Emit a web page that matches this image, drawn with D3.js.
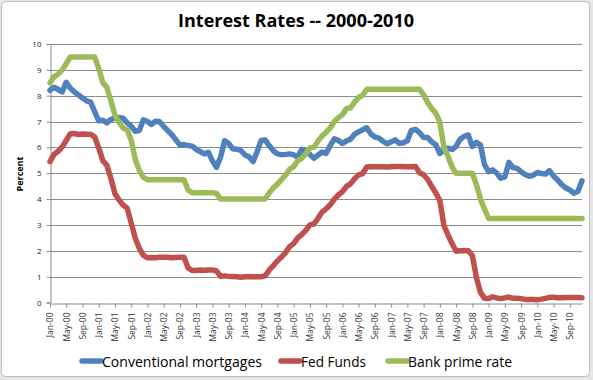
<!DOCTYPE html>
<html>
<head>
<meta charset="utf-8">
<script src="https://cdn.jsdelivr.net/npm/d3@7"></script>
<style>
  body { margin: 0; background: #fff; }
  text { font-family: "Open Sans", "Noto Sans", sans-serif; }
</style>
</head>
<body>
<div id="chart"></div>
<script>
// monthly categories Jan-2000 .. Dec-2010
const months = d3.timeMonth.range(new Date(2000, 0, 1), new Date(2011, 0, 1))
const monthLabels = months.map(d3.timeFormat('%b-%y'))

const mortgages = [
  8.21, 8.33, 8.24, 8.15, 8.52, 8.29, 8.15, 8.03, 7.91, 7.80, 7.75, 7.38,
  7.03, 7.05, 6.95, 7.08, 7.15, 7.16, 7.13, 6.95, 6.82, 6.62, 6.66, 7.07,
  7.00, 6.89, 7.01, 6.99, 6.81, 6.65, 6.49, 6.29, 6.09, 6.11, 6.07, 6.05,
  5.92, 5.84, 5.75, 5.81, 5.48, 5.23, 5.63, 6.26, 6.15, 5.95, 5.93, 5.88,
  5.71, 5.64, 5.45, 5.83, 6.27, 6.29, 6.06, 5.87, 5.75, 5.72, 5.73, 5.75,
  5.71, 5.63, 5.93, 5.86, 5.72, 5.58, 5.70, 5.82, 5.77, 6.07, 6.33, 6.27,
  6.15, 6.25, 6.32, 6.51, 6.60, 6.68, 6.76, 6.52, 6.40, 6.36, 6.24, 6.14,
  6.22, 6.29, 6.16, 6.18, 6.26, 6.66, 6.70, 6.57, 6.38, 6.38, 6.21, 6.10,
  5.76, 5.92, 5.97, 5.92, 6.04, 6.32, 6.43, 6.48, 6.04, 6.20, 6.09, 5.33,
  5.06, 5.13, 5.00, 4.81, 4.86, 5.42, 5.22, 5.19, 5.06, 4.95, 4.88, 4.93,
  5.03, 4.99, 4.97, 5.10, 4.89, 4.74, 4.56, 4.43, 4.35, 4.23, 4.30, 4.71
]

const fedFunds = [
  5.45, 5.73, 5.85, 6.02, 6.27, 6.53, 6.54, 6.50, 6.52, 6.51, 6.51, 6.40,
  5.98, 5.49, 5.31, 4.80, 4.21, 3.97, 3.77, 3.65, 3.07, 2.49, 2.09, 1.82,
  1.73, 1.74, 1.73, 1.75, 1.75, 1.75, 1.73, 1.74, 1.75, 1.75, 1.34, 1.24,
  1.24, 1.26, 1.25, 1.26, 1.26, 1.22, 1.01, 1.03, 1.01, 1.01, 1.00, 0.98,
  1.00, 1.01, 1.00, 1.00, 1.00, 1.03, 1.26, 1.43, 1.61, 1.76, 1.93, 2.16,
  2.28, 2.50, 2.63, 2.79, 3.00, 3.04, 3.26, 3.50, 3.62, 3.78, 4.00, 4.16,
  4.29, 4.49, 4.59, 4.79, 4.94, 4.99, 5.24, 5.25, 5.25, 5.25, 5.25, 5.24,
  5.25, 5.26, 5.26, 5.25, 5.25, 5.25, 5.26, 5.02, 4.94, 4.76, 4.49, 4.24,
  3.94, 2.98, 2.61, 2.28, 1.98, 2.00, 2.01, 2.00, 1.81, 0.97, 0.39, 0.16,
  0.15, 0.22, 0.18, 0.15, 0.18, 0.21, 0.16, 0.16, 0.15, 0.12, 0.12, 0.12,
  0.11, 0.13, 0.16, 0.20, 0.20, 0.18, 0.18, 0.19, 0.19, 0.19, 0.19, 0.18
]

const primeRate = [
  8.50, 8.73, 8.83, 9.00, 9.24, 9.50, 9.50, 9.50, 9.50, 9.50, 9.50, 9.50,
  9.05, 8.50, 8.32, 7.80, 7.24, 6.98, 6.75, 6.67, 6.28, 5.53, 5.10, 4.84,
  4.75, 4.75, 4.75, 4.75, 4.75, 4.75, 4.75, 4.75, 4.75, 4.75, 4.35, 4.25,
  4.25, 4.25, 4.25, 4.25, 4.25, 4.22, 4.00, 4.00, 4.00, 4.00, 4.00, 4.00,
  4.00, 4.00, 4.00, 4.00, 4.00, 4.01, 4.25, 4.43, 4.58, 4.75, 4.93, 5.15,
  5.25, 5.49, 5.58, 5.75, 5.98, 6.01, 6.25, 6.44, 6.59, 6.75, 7.00, 7.15,
  7.26, 7.50, 7.53, 7.75, 7.93, 8.02, 8.25, 8.25, 8.25, 8.25, 8.25, 8.25,
  8.25, 8.25, 8.25, 8.25, 8.25, 8.25, 8.25, 8.25, 8.03, 7.74, 7.50, 7.33,
  6.98, 6.00, 5.66, 5.24, 5.00, 5.00, 5.00, 5.00, 5.00, 4.56, 4.00, 3.61,
  3.25, 3.25, 3.25, 3.25, 3.25, 3.25, 3.25, 3.25, 3.25, 3.25, 3.25, 3.25,
  3.25, 3.25, 3.25, 3.25, 3.25, 3.25, 3.25, 3.25, 3.25, 3.25, 3.25, 3.25
]

const seriesNames = ['Conventional mortgages', 'Fed Funds', 'Bank prime rate']
const seriesValues = [mortgages, fedFunds, primeRate]
const seriesColors = ['#4f81bd', '#c0504d', '#9bbb59']
const yTicks = [0, 1, 2, 3, 4, 5, 6, 7, 8, 9, 10]

const canvasWidth = 593
const canvasHeight = 380

const svg = d3
  .select('#chart')
  .append('svg')
  .attr('width', canvasWidth)
  .attr('height', canvasHeight)

// grey surround + chart border
svg
  .append('rect')
  .attr('width', canvasWidth)
  .attr('height', canvasHeight)
  .attr('fill', '#e6e6e6')

svg
  .append('rect')
  .attr('x', 1.5)
  .attr('y', 1.5)
  .attr('width', 588)
  .attr('height', 375)
  .attr('rx', 4)
  .attr('fill', '#fff')
  .attr('stroke', '#bdbdbd')

const xScale = d3
  .scaleLinear()
  .domain([0, months.length - 1])
  .range([50, 582])

const yScale = d3
  .scaleLinear()
  .domain([0, 10])
  .range([302.5, 44])

// gridlines
svg
  .append('g')
  .selectAll('line')
  .data(yTicks.slice(1))
  .enter()
  .append('line')
  .attr('x1', 50)
  .attr('x2', 582)
  .attr('y1', d => Math.round(yScale(d)) + 0.5)
  .attr('y2', d => Math.round(yScale(d)) + 0.5)
  .attr('stroke', '#8c8c8c')

// y axis
const yAxis = svg
  .append('g')
  .attr('transform', 'translate(50.5, 0)')
  .call(d3.axisLeft(yScale).tickValues(yTicks).tickSize(4).tickPadding(5))
yAxis.select('.domain').attr('stroke', '#8c8c8c')
yAxis.selectAll('.tick line').attr('stroke', '#8c8c8c')
yAxis
  .selectAll('.tick text')
  .attr('font-size', 8)
  .attr('font-family', '"Open Sans", sans-serif')
  .attr('fill', '#222')

// x axis
const xTickValues = d3.range(0, months.length, 4)
const xAxis = svg
  .append('g')
  .attr('transform', `translate(0, ${Math.round(yScale(0)) + 0.5})`)
  .call(
    d3
      .axisBottom(xScale)
      .tickValues(xTickValues)
      .tickFormat(i => monthLabels[i])
      .tickSize(4)
      .tickSizeOuter(0),
  )
xAxis.select('.domain').attr('stroke', '#8c8c8c')
xAxis.selectAll('.tick line').attr('stroke', '#8c8c8c')
xAxis
  .selectAll('.tick text')
  .attr('font-size', 8.5)
  .attr('font-family', '"Open Sans", sans-serif')
  .attr('fill', '#333')
  .attr('transform', 'rotate(-90)')
  .attr('text-anchor', 'end')
  .attr('x', -9)
  .attr('y', 0)
  .attr('dy', '0.35em')

// y axis title
svg
  .append('text')
  .attr('transform', 'translate(23, 174) rotate(-90)')
  .attr('text-anchor', 'middle')
  .attr('font-size', 9)
  .attr('font-weight', 'bold')
  .text('Percent')

// title
svg
  .append('text')
  .attr('x', 296)
  .attr('y', 27)
  .attr('text-anchor', 'middle')
  .attr('font-size', 18)
  .attr('font-weight', 'bold')
  .attr('textLength', 236)
  .attr('lengthAdjust', 'spacingAndGlyphs')
  .text('Interest Rates -- 2000-2010')

// series lines
const line = d3
  .line()
  .x((d, i) => xScale(i))
  .y(d => yScale(d))

svg
  .append('g')
  .selectAll('path')
  .data(seriesValues)
  .enter()
  .append('path')
  .attr('d', line)
  .attr('fill', 'none')
  .attr('stroke', (d, i) => seriesColors[i])
  .attr('stroke-width', 5.5)
  .attr('stroke-linejoin', 'round')
  .attr('stroke-linecap', 'round')

// legend
const legendItems = [
  {x: 82, w: 160},
  {x: 281, w: 65},
  {x: 388, w: 104},
]

const legend = svg
  .append('g')
  .selectAll('g')
  .data(seriesNames)
  .enter()
  .append('g')
  .attr('transform', (d, i) => `translate(${legendItems[i].x}, 361)`)

legend
  .append('line')
  .attr('x1', 0)
  .attr('x2', 19)
  .attr('stroke', (d, i) => seriesColors[i])
  .attr('stroke-width', 5.5)
  .attr('stroke-linecap', 'round')

legend
  .append('text')
  .attr('x', 20)
  .attr('y', 5.5)
  .attr('font-size', 15)
  .attr('textLength', (d, i) => legendItems[i].w)
  .attr('lengthAdjust', 'spacingAndGlyphs')
  .text(d => d)
</script>
</body>
</html>
